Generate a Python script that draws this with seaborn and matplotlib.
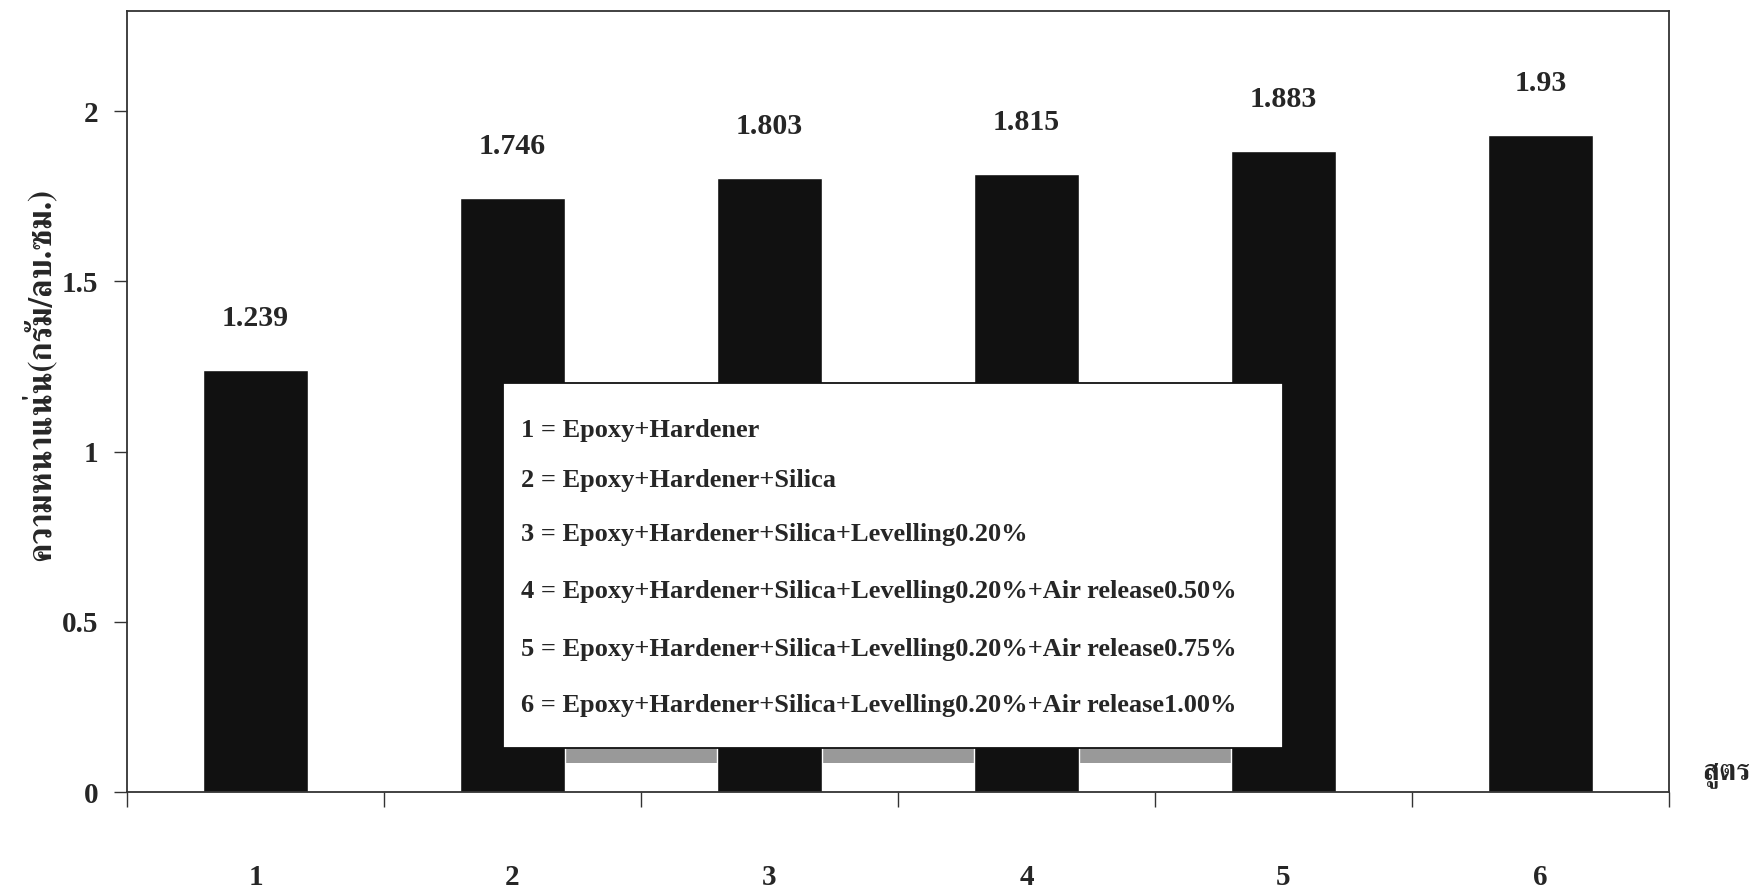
import numpy as np
import pandas as pd
import matplotlib
matplotlib.use("Agg")
import matplotlib.pyplot as plt
import seaborn as sns
from matplotlib.patches import Rectangle

# -------------------- DATA --------------------
formulas = ["1", "2", "3", "4", "5", "6"]
density = [1.239, 1.746, 1.803, 1.815, 1.883, 1.93]
legend_lines = [
    "1 = Epoxy+Hardener",
    "2 = Epoxy+Hardener+Silica",
    "3 = Epoxy+Hardener+Silica+Levelling0.20%",
    "4 = Epoxy+Hardener+Silica+Levelling0.20%+Air release0.50%",
    "5 = Epoxy+Hardener+Silica+Levelling0.20%+Air release0.75%",
    "6 = Epoxy+Hardener+Silica+Levelling0.20%+Air release1.00%",
]
y_label = "ความหนาแน่น(กรัม/ลบ.ซม.)"
x_label = "สูตร"

THAI = ["FreeSerif", "IBM Plex Sans Thai Looped", "DejaVu Sans"]

sns.set_theme(style="white")
plt.rcParams["font.family"] = ["Liberation Serif", "DejaVu Serif"]
plt.rcParams["font.weight"] = "bold"

df = pd.DataFrame({"formula": formulas, "density": density})

fig = plt.figure(figsize=(17.6, 8.88), dpi=100)
ax = fig.add_axes([0.0722, 0.108, 0.876, 0.8795])

sns.barplot(data=df, x="formula", y="density", color="#111111", width=0.41,
            saturation=1, ax=ax, zorder=2)

ax.set_ylim(0, 2.294)
ax.set_xlim(-0.5, 5.5)
ax.set_yticks([0, 0.5, 1, 1.5, 2])
ax.set_yticklabels(["0", "0.5", "1", "1.5", "2"], fontsize=21)
ax.tick_params(axis="y", direction="out", length=9.5, width=1, pad=11, color="#333333", left=True)

# tick marks on category boundaries, labels at centres
ax.set_xticks(np.arange(-0.5, 6, 1))
ax.set_xticklabels([""] * 7)
ax.set_xticks(range(6), formulas, minor=True, fontsize=21)
ax.tick_params(axis="x", which="major", direction="out", length=11, width=1, color="#333333", bottom=True)
ax.tick_params(axis="x", which="minor", length=0, pad=52)

for s in ax.spines.values():
    s.set_color("#333333")
    s.set_linewidth(1.3)

for i, v in enumerate(density):
    ax.annotate(f"{v:g}", (i, v), xytext=(0, 37), textcoords="offset points",
                ha="center", va="center", fontsize=21.5, fontweight="bold")

ax.set_xlabel("")
ax.set_ylabel(y_label, fontsize=23.5, fontweight="bold", family=THAI)
ax.yaxis.set_label_coords(-0.046, 0.535)

# legend box, its shadow sits behind the bars
ax.add_patch(Rectangle((0.252, 0.037), 0.495, 0.47, transform=ax.transAxes,
                       facecolor="#999999", edgecolor="none", zorder=1))
ax.add_patch(Rectangle((0.244, 0.0563), 0.5055, 0.4677, transform=ax.transAxes,
                       facecolor="white", edgecolor="#111111", linewidth=1.3, zorder=3))
line_y = [0.4635, 0.3995, 0.3303, 0.2574, 0.1831, 0.1114]
for txt, yy in zip(legend_lines, line_y):
    ax.text(0.2555, yy, txt, transform=ax.transAxes, fontsize=19,
            fontweight="bold", va="center", ha="left", zorder=4)

fig.text(0.981, 0.127, x_label, fontsize=21, fontweight="bold", ha="center", va="center",
         family=THAI)

fig.savefig("out.png", dpi=100)
